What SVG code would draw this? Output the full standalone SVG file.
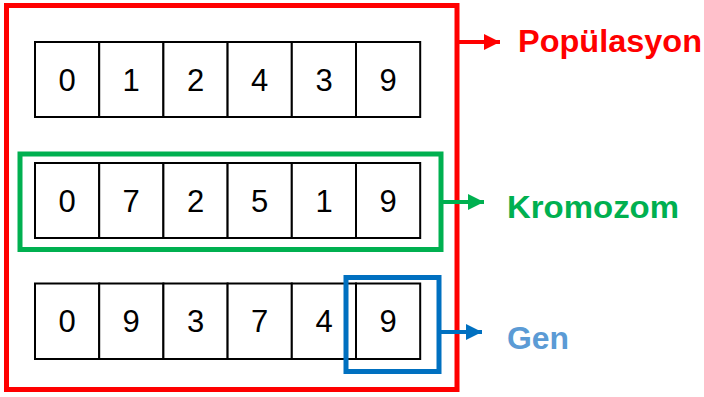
<svg xmlns="http://www.w3.org/2000/svg" width="704" height="397" viewBox="0 0 704 397">
<style>
.cell{fill:#fff;stroke:#000;stroke-width:2}
.d{font-family:"Liberation Sans",Arial,sans-serif;font-size:31px;text-anchor:middle;fill:#000}
.lbl{font-family:"Liberation Sans",Arial,sans-serif;font-weight:bold;font-size:32px}
</style>
<defs>
<marker id="ar" viewBox="0 0 10 10" refX="10" refY="5" markerWidth="16" markerHeight="16" markerUnits="userSpaceOnUse" orient="auto"><path d="M0,0 L10,5 L0,10 z" fill="context-stroke"/></marker>
<marker id="aR" viewBox="0 0 10 10" refX="10" refY="5" markerWidth="16" markerHeight="16" markerUnits="userSpaceOnUse" orient="auto"><path d="M0,0 L10,5 L0,10 z" fill="#FF0000"/></marker>
<marker id="aG" viewBox="0 0 10 10" refX="10" refY="5" markerWidth="16" markerHeight="16" markerUnits="userSpaceOnUse" orient="auto"><path d="M0,0 L10,5 L0,10 z" fill="#00B050"/></marker>
<marker id="aB" viewBox="0 0 10 10" refX="10" refY="5" markerWidth="16" markerHeight="16" markerUnits="userSpaceOnUse" orient="auto"><path d="M0,0 L10,5 L0,10 z" fill="#0070C0"/></marker>
</defs>
<rect width="704" height="397" fill="#fff"/>
<g id="populasyon">
<rect x="6.5" y="5.5" width="450.5" height="384" fill="none" stroke="#FF0000" stroke-width="5"/>
<text class="lbl" x="518" y="52" fill="#FF0000" textLength="184" lengthAdjust="spacingAndGlyphs">Popülasyon</text>
</g>
<g id="row1">
<rect class="cell" x="35" y="42" width="64.2" height="75"/>
<rect class="cell" x="99.2" y="42" width="64.2" height="75"/>
<rect class="cell" x="163.4" y="42" width="64.2" height="75"/>
<rect class="cell" x="227.6" y="42" width="64.2" height="75"/>
<rect class="cell" x="291.8" y="42" width="64.2" height="75"/>
<rect class="cell" x="356" y="42" width="64.2" height="75"/>
<text class="d" x="67" y="91">0</text>
<text class="d" x="131" y="91">1</text>
<text class="d" x="195.5" y="91">2</text>
<text class="d" x="259.7" y="91">4</text>
<text class="d" x="324" y="91">3</text>
<text class="d" x="388" y="91">9</text>
</g>
<g id="kromozom">
<rect class="cell" x="35" y="163" width="64.2" height="75"/>
<rect class="cell" x="99.2" y="163" width="64.2" height="75"/>
<rect class="cell" x="163.4" y="163" width="64.2" height="75"/>
<rect class="cell" x="227.6" y="163" width="64.2" height="75"/>
<rect class="cell" x="291.8" y="163" width="64.2" height="75"/>
<rect class="cell" x="356" y="163" width="64.2" height="75"/>
<text class="d" x="67" y="212">0</text>
<text class="d" x="131" y="212">7</text>
<text class="d" x="195.5" y="212">2</text>
<text class="d" x="259.7" y="212">5</text>
<text class="d" x="324" y="212">1</text>
<text class="d" x="388" y="212">9</text>
<rect x="20" y="154" width="421" height="95.5" fill="none" stroke="#00B050" stroke-width="5"/>
<text class="lbl" x="507" y="218" fill="#00B050" textLength="172" lengthAdjust="spacingAndGlyphs">Kromozom</text>
</g>
<g id="row3">
<rect class="cell" x="35" y="283.5" width="64.2" height="75.5"/>
<rect class="cell" x="99.2" y="283.5" width="64.2" height="75.5"/>
<rect class="cell" x="163.4" y="283.5" width="64.2" height="75.5"/>
<rect class="cell" x="227.6" y="283.5" width="64.2" height="75.5"/>
<rect class="cell" x="291.8" y="283.5" width="64.2" height="75.5"/>
<rect class="cell" x="356" y="283.5" width="64.2" height="75.5"/>
<text class="d" x="67" y="332">0</text>
<text class="d" x="131" y="332">9</text>
<text class="d" x="195.5" y="332">3</text>
<text class="d" x="259.7" y="332">7</text>
<text class="d" x="324" y="332">4</text>
<text class="d" x="388" y="332">9</text>
</g>
<g id="gen">
<rect x="346" y="277.5" width="93" height="94" fill="none" stroke="#0070C0" stroke-width="5"/>
<text class="lbl" x="507" y="349" fill="#5B9BD5" textLength="62" lengthAdjust="spacingAndGlyphs">Gen</text>
</g>
<g id="connectors">
<line x1="459" y1="42" x2="500" y2="42" stroke="#FF0000" stroke-width="4" marker-end="url(#aR)"/>
<line x1="443" y1="202" x2="484" y2="202" stroke="#00B050" stroke-width="4" marker-end="url(#aG)"/>
<line x1="441" y1="332" x2="482" y2="332" stroke="#0070C0" stroke-width="4" marker-end="url(#aB)"/>
</g>
</svg>
